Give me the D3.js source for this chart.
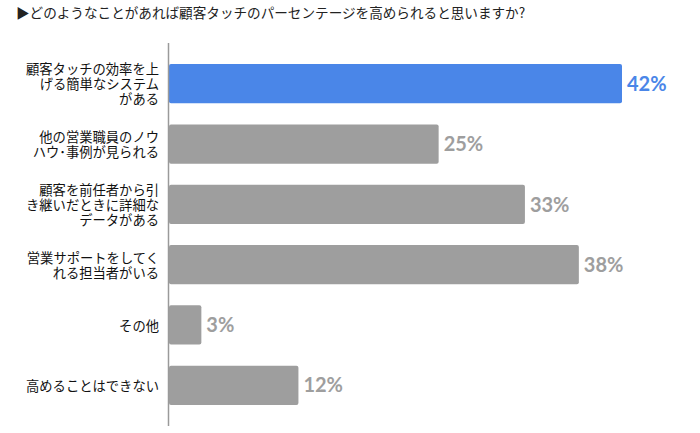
<!DOCTYPE html>
<html>
<head>
<meta charset="utf-8">
<script src="https://cdn.jsdelivr.net/npm/d3@7"></script>
<style>
  body { margin: 0; background: #fff; }
  svg { display: block; }
</style>
</head>
<body>
<svg id="chart" width="700" height="433"></svg>
<script>
// chart values
var titleText = "▶どのようなことがあれば顧客タッチのパーセンテージを高められると思いますか?";
var categories = ["c1", "c2", "c3", "c4", "c5", "c6"];
var categoryLines = [
    ["顧客タッチの効率を上", "げる簡単なシステム", "がある"],
    ["他の営業職員のノウ", "ハウ･事例が見られる"],
    ["顧客を前任者から引", "き継いだときに詳細な", "データがある"],
    ["営業サポートをしてく", "れる担当者がいる"],
    ["その他"],
    ["高めることはできない"]
];
var values = [42, 25, 33, 38, 3, 12];
var highlight = [true, false, false, false, false, false];

var svg = d3.select("#chart");

var y = d3.scaleBand()
    .domain(categories)
    .range([43, 426])
    .padding(0.35);

var x = d3.scaleLinear()
    .domain([0, 42])
    .range([169, 622]);

var jpFont = "'Noto Sans CJK JP', 'Noto Sans', sans-serif";

svg.append("text")
    .attr("x", 16)
    .attr("y", 18)
    .attr("font-family", jpFont)
    .attr("font-size", 13.6)
    .attr("fill", "#222")
    .text(titleText);

// bars
svg.append("g").selectAll("rect")
    .data(values)
    .enter().append("rect")
    .attr("x", x(0))
    .attr("y", function (d, i) { return y(categories[i]); })
    .attr("width", function (d) { return x(d) - x(0); })
    .attr("height", y.bandwidth())
    .attr("rx", 2)
    .attr("fill", function (d, i) { return highlight[i] ? "#4a86e8" : "#9e9e9e"; });

// value labels
svg.append("g").selectAll("text")
    .data(values)
    .enter().append("text")
    .attr("x", function (d) { return x(d) + 5; })
    .attr("y", function (d, i) { return y(categories[i]) + y.bandwidth() / 2; })
    .attr("dy", "0.36em")
    .attr("font-family", "Lato, 'Open Sans', sans-serif")
    .attr("font-weight", "bold")
    .attr("font-size", 20)
    .attr("fill", function (d, i) { return highlight[i] ? "#4a86e8" : "#9e9e9e"; })
    .text(function (d) { return d + "%"; });

// category labels, multi-line, right aligned
var lineH = 15;
var labels = svg.append("g")
    .attr("font-family", jpFont)
    .attr("font-size", 13.3)
    .attr("fill", "#111")
    .attr("text-anchor", "end");

categoryLines.forEach(function (lines, i) {
    var cy = y(categories[i]) + y.bandwidth() / 2;
    var top = cy - (lines.length - 1) * lineH / 2 + 1;
    lines.forEach(function (line, j) {
        labels.append("text")
            .attr("x", 159)
            .attr("y", top + j * lineH)
            .attr("dy", "0.35em")
            .text(line);
    });
});

// axis line
svg.append("line")
    .attr("x1", 168.5)
    .attr("x2", 168.5)
    .attr("y1", y.range()[0])
    .attr("y2", y.range()[1])
    .attr("stroke", "#9a9a9a")
    .attr("stroke-width", 1.5);
</script>
</body>
</html>
